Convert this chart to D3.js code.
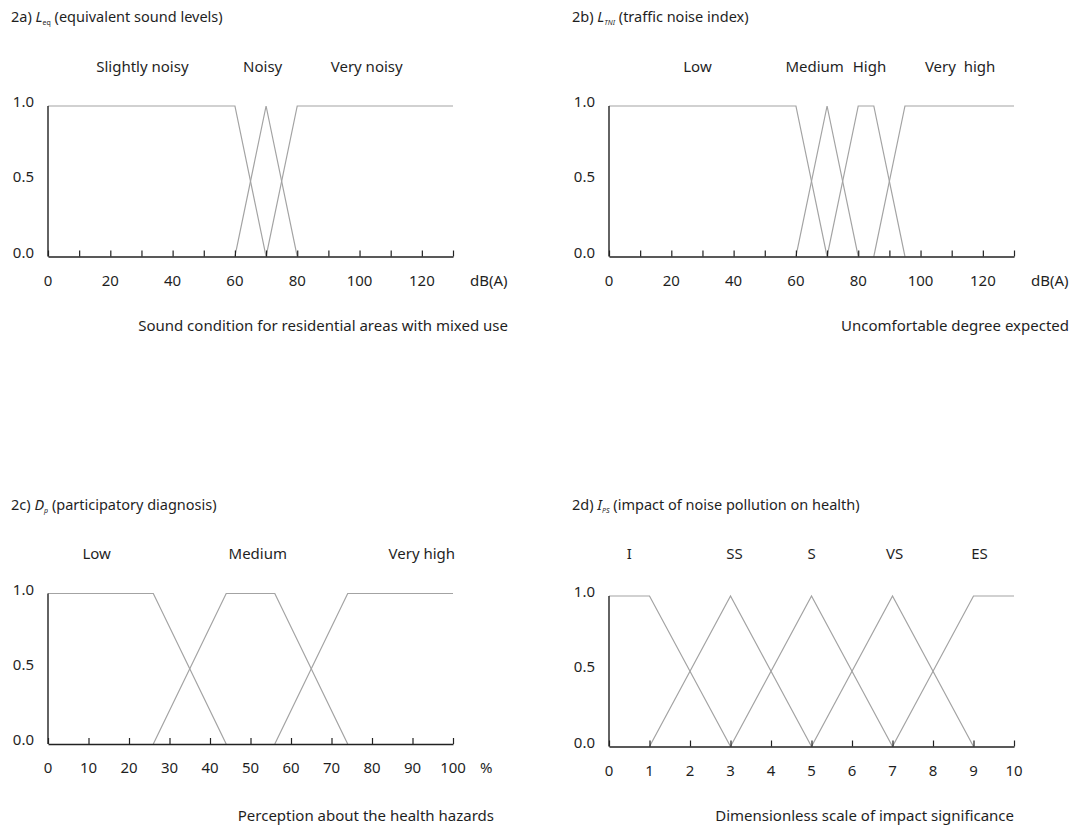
<!DOCTYPE html>
<html>
<head>
<meta charset="utf-8">
<script src="https://cdn.jsdelivr.net/npm/d3@7"></script>
<style>
  body { margin: 0; background: #fff; }
  text { font-family: "Noto Sans", "Open Sans", sans-serif; fill: #1f1f1f; }
</style>
</head>
<body>
<svg id="chart" width="1072" height="827"></svg>
<script>
// ===== Data =====
// 2a) Leq
const aCategories = ["Slightly noisy", "Noisy", "Very noisy"];
const aLabelAt = [30.3, 68.9, 102.3];
const aSeries = [
  [[0, 1], [60, 1], [70, 0]],
  [[60, 0], [70, 1], [80, 0]],
  [[70, 0], [80, 1], [130, 1]]
];
const aTickLabels = [0, 20, 40, 60, 80, 100, 120];

// 2b) LTNI
const bCategories = ["Low", "Medium", "High", "Very\u00a0 high"];
const bLabelAt = [28.4, 66.0, 83.6, 112.7];
const bSeries = [
  [[0, 1], [60, 1], [70, 0]],
  [[60, 0], [70, 1], [80, 0]],
  [[70, 0], [80, 1], [85, 1], [95, 0]],
  [[85, 0], [95, 1], [130, 1]]
];
const bTickLabels = [0, 20, 40, 60, 80, 100, 120];

// 2c) Dp
const cCategories = ["Low", "Medium", "Very high"];
const cLabelAt = [12.0, 51.8, 92.3];
const cSeries = [
  [[0, 1], [26, 1], [44, 0]],
  [[26, 0], [44, 1], [56, 1], [74, 0]],
  [[56, 0], [74, 1], [100, 1]]
];
const cTickLabels = [0, 10, 20, 30, 40, 50, 60, 70, 80, 90, 100];

// 2d) IPS
const dCategories = ["I", "SS", "S", "VS", "ES"];
const dLabelAt = [0.5, 3.1, 5.0, 7.05, 9.15];
const dSeries = [
  [[0, 1], [1, 1], [3, 0]],
  [[1, 0], [3, 1], [5, 0]],
  [[3, 0], [5, 1], [7, 0]],
  [[5, 0], [7, 1], [9, 0]],
  [[7, 0], [9, 1], [10, 1]]
];
const dTickLabels = [0, 1, 2, 3, 4, 5, 6, 7, 8, 9, 10];

const yTickLabels = [0, 0.5, 1];

// ===== Panels =====
const panels = [
  {
    tag: "2a) ", sym: "L", sub: "eq", subItalic: false, rest: " (equivalent sound levels)",
    caption: "Sound condition for residential areas with mixed use", unit: "dB(A)",
    categories: aCategories, labelAt: aLabelAt, series: aSeries,
    xMax: 130, tickStep: 10, tickLabels: aTickLabels,
    left: 48, right: 453, top: 106, bottom: 256.5,
    titleX: 11, titleY: 22, labelY: 72, captionY: 331, captionRight: 508
  },
  {
    tag: "2b) ", sym: "L", sub: "TNI", subItalic: true, rest: " (traffic noise index)",
    caption: "Uncomfortable degree expected", unit: "dB(A)",
    categories: bCategories, labelAt: bLabelAt, series: bSeries,
    xMax: 130, tickStep: 10, tickLabels: bTickLabels,
    left: 609, right: 1014, top: 106, bottom: 256.5,
    titleX: 572, titleY: 22, labelY: 72, captionY: 331, captionRight: 1069
  },
  {
    tag: "2c) ", sym: "D", sub: "p", subItalic: true, rest: " (participatory diagnosis)",
    caption: "Perception about the health hazards", unit: "%",
    categories: cCategories, labelAt: cLabelAt, series: cSeries,
    xMax: 100, tickStep: 10, tickLabels: cTickLabels,
    left: 48, right: 453, top: 593.5, bottom: 744,
    titleX: 11, titleY: 510, labelY: 559, captionY: 821, captionRight: 494
  },
  {
    tag: "2d) ", sym: "I", sub: "PS", subItalic: true, rest: " (impact of noise pollution on health)",
    caption: "Dimensionless scale of impact significance", unit: null,
    categories: dCategories, labelAt: dLabelAt, series: dSeries,
    xMax: 10, tickStep: 1, tickLabels: dTickLabels,
    left: 609, right: 1014, top: 596, bottom: 746.5,
    titleX: 572, titleY: 510, labelY: 559, captionY: 821, captionRight: 1014
  }
];

const svg = d3.select("#chart");
const FS = "15px";

function drawPanel(p) {
  const g = svg.append("g");

  const x = d3.scaleLinear().domain([0, p.xMax]).range([p.left, p.right]);
  const y = d3.scaleLinear().domain([0, 1]).range([p.bottom, p.top]);

  // Title
  const title = g.append("text")
    .attr("x", p.titleX)
    .attr("y", p.titleY)
    .style("font-size", "14.5px");
  title.append("tspan").text(p.tag);
  title.append("tspan").style("font-style", "italic").text(p.sym);
  title.append("tspan")
    .attr("dy", 3)
    .style("font-size", "7px")
    .style("font-style", p.subItalic ? "italic" : "normal")
    .text(p.sub);
  title.append("tspan").attr("dy", -3).text(p.rest);

  // Category labels
  g.selectAll(".cat")
    .data(p.categories)
    .enter()
    .append("text")
    .attr("class", "cat")
    .attr("x", (d, i) => x(p.labelAt[i]))
    .attr("y", p.labelY)
    .attr("text-anchor", "middle")
    .style("font-size", FS)
    .text(d => d);

  // Membership functions
  const line = d3.line().x(d => x(d[0])).y(d => y(d[1]));
  g.selectAll(".mf")
    .data(p.series)
    .enter()
    .append("path")
    .attr("class", "mf")
    .attr("d", line)
    .attr("fill", "none")
    .attr("stroke", "#a3a3a3")
    .attr("stroke-width", 1.2);

  // X axis with inward ticks
  const ticks = d3.range(0, p.xMax + p.tickStep / 2, p.tickStep);
  const xAxis = d3.axisTop(x)
    .tickValues(ticks)
    .tickSize(6)
    .tickSizeOuter(0)
    .tickFormat("");
  const xg = g.append("g")
    .attr("transform", `translate(0,${p.bottom})`)
    .call(xAxis);
  xg.select(".domain").attr("stroke", "#222").attr("stroke-width", 1.4);
  xg.selectAll(".tick line").attr("stroke", "#222").attr("stroke-width", 1.2);

  // Y axis line
  g.append("line")
    .attr("x1", x(0)).attr("x2", x(0))
    .attr("y1", y(0)).attr("y2", y(1))
    .attr("stroke", "#222")
    .attr("stroke-width", 1.4);

  // X tick labels
  g.selectAll(".xl")
    .data(p.tickLabels)
    .enter()
    .append("text")
    .attr("class", "xl")
    .attr("x", d => x(d))
    .attr("y", p.bottom + 29)
    .attr("text-anchor", "middle")
    .style("font-size", FS)
    .text(d => d);

  // Y tick labels
  g.selectAll(".yl")
    .data(yTickLabels)
    .enter()
    .append("text")
    .attr("class", "yl")
    .attr("x", p.left - 14)
    .attr("y", d => y(d) + 1)
    .attr("text-anchor", "end")
    .style("font-size", FS)
    .text(d => d3.format(".1f")(d));

  // Unit
  if (p.unit) {
    g.append("text")
      .attr("x", p.right + (p.unit === "%" ? 27 : 17))
      .attr("y", p.bottom + 29)
      .style("font-size", FS)
      .text(p.unit);
  }

  // Caption
  g.append("text")
    .attr("x", p.captionRight)
    .attr("y", p.captionY)
    .attr("text-anchor", "end")
    .style("font-size", FS)
    .text(p.caption);
}

panels.forEach(drawPanel);
</script>
</body>
</html>
